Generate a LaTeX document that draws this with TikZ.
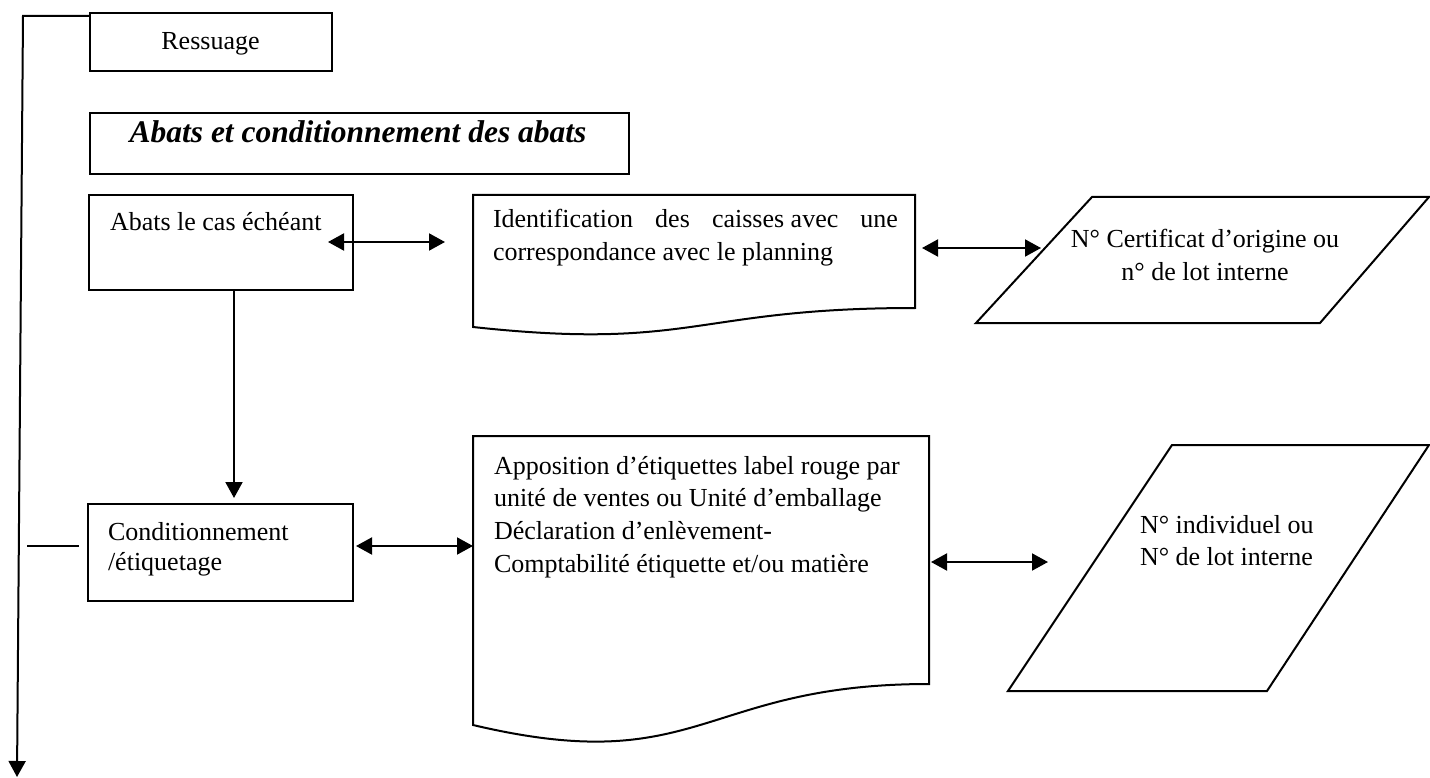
\documentclass[tikz,border=0pt]{standalone}
\usepackage{fontspec}
\setmainfont{Liberation Serif}
\usetikzlibrary{arrows.meta}

\tikzset{
  outline/.style={draw=black, line width=2pt, line join=miter},
  boxshape/.style={outline, rectangle, inner sep=0pt, outer sep=0pt, anchor=north west},
  body/.style={inner sep=0pt, outer sep=0pt, font=\fontsize{26}{30}\selectfont},
  headline/.style={inner sep=0pt, outer sep=0pt, font=\fontsize{31.5}{36}\selectfont\bfseries\itshape},
  link/.style={line width=2pt, {Triangle[length=16pt,width=17pt]}-{Triangle[length=16pt,width=17pt]}},
  flow/.style={line width=2pt, -{Triangle[length=16pt,width=17pt]}},
  plain/.style={line width=2pt},
}

\begin{document}
\begin{tikzpicture}[x=1pt, y=-1pt]
\useasboundingbox (0,0) rectangle (1430,778);

% ---- process boxes ----
\node[boxshape, minimum width=242pt, minimum height=58pt] (ress) at (90,13) {};
\node[body, anchor=base] (ressText) at (210.5,50) {Ressuage};

\node[boxshape, minimum width=539pt, minimum height=61pt] (title) at (90,113) {};
\node[headline, anchor=base] (titleText) at (358,143) {Abats et conditionnement des abats};

\node[boxshape, minimum width=264pt, minimum height=95pt] (abats) at (89,195) {};
\node[body, anchor=base west] (abatsText) at (110,231) {Abats le cas échéant};

\node[boxshape, minimum width=265pt, minimum height=97pt] (cond) at (88,504) {};
\node[body, anchor=base west] (condText) at (108,540)
  {\parbox[t]{240pt}{\fontsize{26}{30}\selectfont\raggedright Conditionnement\\/étiquetage}};

% ---- document shapes ----
\draw[outline] (473,195) -- (915,195) -- (915,308)
  .. controls (694,308) and (694,351) .. (473,327) -- cycle;
\node[body, anchor=base west] (identText) at (493,228)
  {\parbox[t]{405pt}{\fontsize{26}{32.5}\selectfont Identification des caisses\hspace{6.5pt}avec une\linebreak correspondance avec le planning}};

\draw[outline] (473,436) -- (929,436) -- (929,684)
  .. controls (701,684) and (701,779) .. (473,725) -- cycle;
\node[body, anchor=base west] (appText) at (494,474)
  {\parbox[t]{430pt}{\fontsize{26}{32.7}\selectfont\raggedright Apposition d’étiquettes label rouge par\\unité de ventes ou Unité d’emballage\\Déclaration d’enlèvement-\\Comptabilité étiquette et/ou matière}};

% ---- data shapes ----
\draw[outline] (1092,197) -- (1429,197) -- (1320,323) -- (976,323) -- cycle;
\node[body, anchor=base] (certText) at (1205,247.5)
  {\parbox[t]{320pt}{\fontsize{26}{33}\selectfont\centering N° Certificat d’origine ou\\n° de lot interne}};

\draw[outline] (1172,445) -- (1429,445) -- (1267,691) -- (1008,691) -- cycle;
\node[body, anchor=base west] (indivText) at (1140,533)
  {\parbox[t]{240pt}{\fontsize{26}{32.5}\selectfont\raggedright N° individuel ou\\N° de lot interne}};

% ---- connector end points ----
\coordinate (ressJoin) at (90,16);
\coordinate (loopCorner) at (23,16);
\coordinate (loopEnd) at (17,777);
\coordinate (abatsIn) at (328,242);
\coordinate (identOut) at (445,242);
\coordinate (identEdge) at (922,248);
\coordinate (certIn) at (1041,248);
\coordinate (downTop) at (234,290);
\coordinate (downTip) at (234,498);
\coordinate (condEdge) at (356,546);
\coordinate (appEdge) at (473,546);
\coordinate (appRight) at (931,562);
\coordinate (indivIn) at (1048,562);
\coordinate (stubA) at (27,546);
\coordinate (stubB) at (79,546);

% ---- connectors ----
\draw[flow] (ressJoin) -- (loopCorner) -- (loopEnd);
\draw[link] (abatsIn) -- (identOut);
\draw[link] (identEdge) -- (certIn);
\draw[flow] (downTop) -- (downTip);
\draw[link] (condEdge) -- (appEdge);
\draw[link] (appRight) -- (indivIn);
\draw[plain] (stubA) -- (stubB);
\end{tikzpicture}
\end{document}
